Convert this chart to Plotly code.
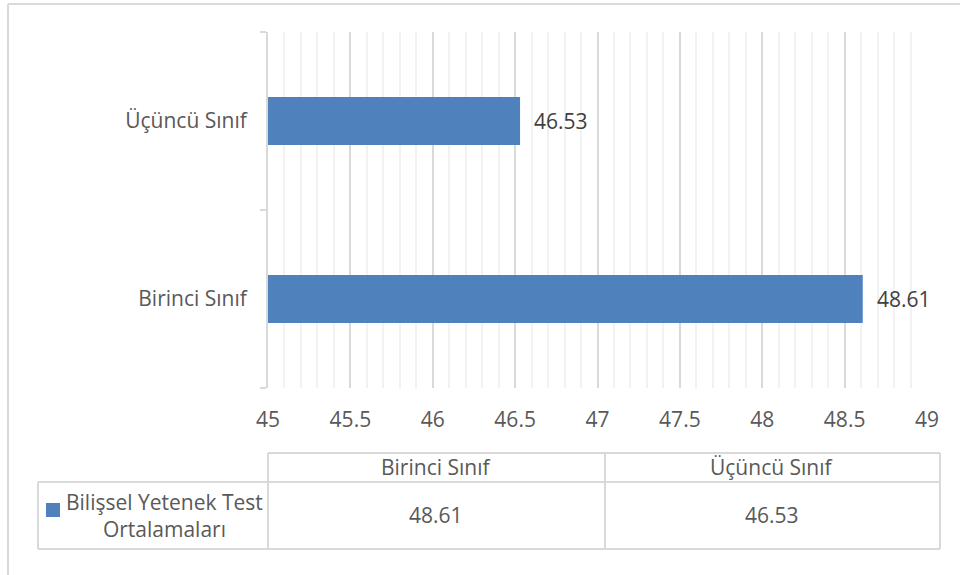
import plotly.graph_objects as go

# donnees
categories = ['Birinci Sınıf', 'Üçüncü Sınıf']
values = [48.61, 46.53]
series_name = 'Bilişsel Yetenek Test<br>Ortalamaları'
x_ticks = [45, 45.5, 46, 46.5, 47, 47.5, 48, 48.5, 49]

bar_color = '#4f81bd'
text_color = '#595959'
line_color = '#d9d9d9'
font_family = 'Open Sans'
fs = 21

# zone de trace en pixels
L, R, T, B = 268, 927, 32, 388


def px_x(p):
    return (p - L) / (R - L)


def px_y(p):
    return (B - p) / (B - T)


fig = go.Figure()
fig.add_trace(go.Bar(
    x=values, y=categories, orientation='h',
    marker=dict(color=bar_color, line=dict(width=0)),
    width=0.27, name=series_name, showlegend=False,
))

# etiquettes des barres
annotations = []
for c, v in zip(categories, values):
    annotations.append(dict(x=v, y=c, xref='x', yref='y', text=f'{v:.2f}',
                            showarrow=False, xanchor='left', yanchor='middle', xshift=12,
                            font=dict(size=fs, color='#404040', family=font_family)))

# tableau de donnees sous le graphique
shapes = []


def hline(y, x0, x1):
    shapes.append(dict(type='line', xref='paper', yref='paper', x0=px_x(x0), x1=px_x(x1),
                       y0=px_y(y), y1=px_y(y), line=dict(color=line_color, width=2)))


def vline(x, y0, y1):
    shapes.append(dict(type='line', xref='paper', yref='paper', x0=px_x(x), x1=px_x(x),
                       y0=px_y(y0), y1=px_y(y1), line=dict(color=line_color, width=2)))


hline(453, 268, 940)
hline(482, 38, 940)
hline(549, 38, 940)
vline(38, 482, 549)
vline(268, 453, 549)
vline(605, 453, 549)
vline(940, 453, 549)

# bordure du graphique
hline(4, 8, 962)
vline(8, 4, 580)

# carre de legende
shapes.append(dict(type='rect', xref='paper', yref='paper', x0=px_x(46), x1=px_x(60),
                   y0=px_y(517), y1=px_y(503), fillcolor=bar_color, line=dict(width=0)))

col_centers = [436, 772]
for c, v, cx in zip(categories, values, col_centers):
    annotations.append(dict(x=px_x(cx), y=px_y(467), xref='paper', yref='paper', text=c,
                            showarrow=False, xanchor='center', yanchor='middle',
                            font=dict(size=fs, color=text_color, family=font_family)))
    annotations.append(dict(x=px_x(cx), y=px_y(515), xref='paper', yref='paper', text=f'{v:.2f}',
                            showarrow=False, xanchor='center', yanchor='middle',
                            font=dict(size=fs, color=text_color, family=font_family)))

annotations.append(dict(x=px_x(164), y=px_y(515), xref='paper', yref='paper', text=series_name,
                        showarrow=False, align='center', xanchor='center', yanchor='middle',
                        font=dict(size=fs, color=text_color, family=font_family)))

fig.update_layout(
    width=960, height=575,
    margin=dict(l=L, r=960 - R, t=T, b=575 - B),
    plot_bgcolor='white', paper_bgcolor='white',
    font=dict(family=font_family, size=fs, color=text_color),
    shapes=shapes, annotations=annotations,
    xaxis=dict(range=[45, 49], tickvals=x_ticks, ticktext=[f'{t:g}' for t in x_ticks],
               showgrid=True, gridcolor=line_color, gridwidth=1.5,
               minor=dict(dtick=0.1, showgrid=True, gridcolor='#f2f2f2', gridwidth=1.5),
               zeroline=False, showline=False, ticks='', ticklabelstandoff=17,
               tickfont=dict(size=fs, color=text_color)),
    yaxis=dict(categoryorder='array', categoryarray=categories,
               showline=True, linecolor=line_color, linewidth=2,
               ticks='outside', tickson='boundaries', ticklen=6, tickcolor=line_color, tickwidth=2,
               showgrid=False, ticklabelstandoff=15,
               tickfont=dict(size=fs, color=text_color)),
)

fig.write_html('out.html', config={'displayModeBar': False},
               post_script="document.body.style.margin='0';")
